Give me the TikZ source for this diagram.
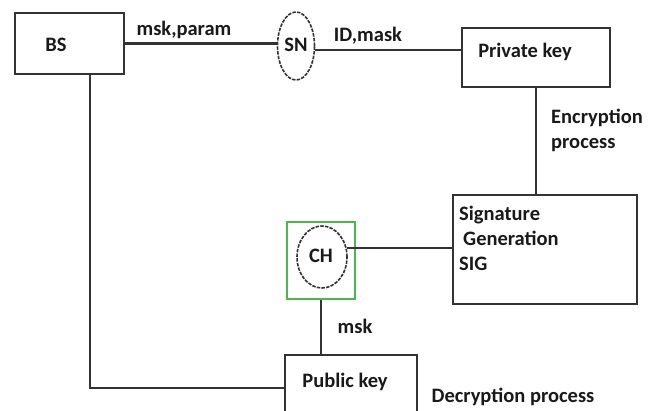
\documentclass[tikz,border=0pt]{standalone}
\usepackage{fontspec}
\setmainfont{Carlito}
\usetikzlibrary{positioning}
\usetikzlibrary{shapes.geometric}

\begin{document}
\begin{tikzpicture}[x=1pt,y=-1pt,
  box/.style={draw=black!80,line width=1.9pt,rectangle,inner sep=0pt},
  ell/.style={draw=black!80,ellipse,line width=1.6pt,dash pattern=on 3.5pt off 1.2pt,inner sep=0pt},
  txt/.style={font=\bfseries\fontsize{20.5}{25}\selectfont,text=black!90,inner sep=0pt},
  wire/.style={draw=black!80,line width=2.5pt}]
\clip (0,0) rectangle (659,410);

% boxes
\node[box,minimum width=109pt,minimum height=61pt](bs) at (69.5,43.5){};
\node[ell,minimum width=37pt,minimum height=68pt](sn) at (296,46){};
\node[box,minimum width=148pt,minimum height=59pt](pk) at (536,57.5){};
\node[box,minimum width=184pt,minimum height=109pt](sig) at (545,249.5){};
\node[box,draw=green!60!black!70,line width=1.5pt,minimum width=68pt,minimum height=77pt](chbox) at (321,260.5){};
\node[ell,minimum width=50pt,minimum height=62pt](ch) at (322,257){};
\node[box,minimum width=132pt,minimum height=60pt](pub) at (351,385){};
\coordinate (corner) at (90,388);

% texts
\node[txt](bst) at (56,45){BS};
\node[txt](snt) at (296,45){SN};
\node[txt](pkt) at (525,52){Private key};
\node[txt,align=left,anchor=north west](sigt) at (459,206){Signature\\\hspace{4pt}Generation\\SIG};
\node[txt](cht) at (321,256){CH};
\node[txt](pubt) at (345,382){Public key};
\node[txt](mp) at (184,30){msk,param};
\node[txt](idm) at (368,36){ID,mask};
\node[txt,align=left,anchor=north west](enc) at (551,109){Encryption\\process};
\node[txt](mskt) at (355,326){msk};
\node[txt](dec) at (513,397){Decryption process};

% lines
\draw[wire](bs.east) -- (bs.east -| sn.west);
\draw[wire]([yshift=-4pt]sn.east) -- ([yshift=-4pt]sn.east -| pk.west);
\draw[wire](pk.south) -- (pk.south |- sig.north);
\draw[wire](ch.20) -- (ch.20 -| sig.west);
\draw[wire](chbox.south) -- (chbox.south |- pub.north);
\draw[wire](bs.south -| corner) -- (corner) -- (corner -| pub.west);
\end{tikzpicture}
\end{document}
